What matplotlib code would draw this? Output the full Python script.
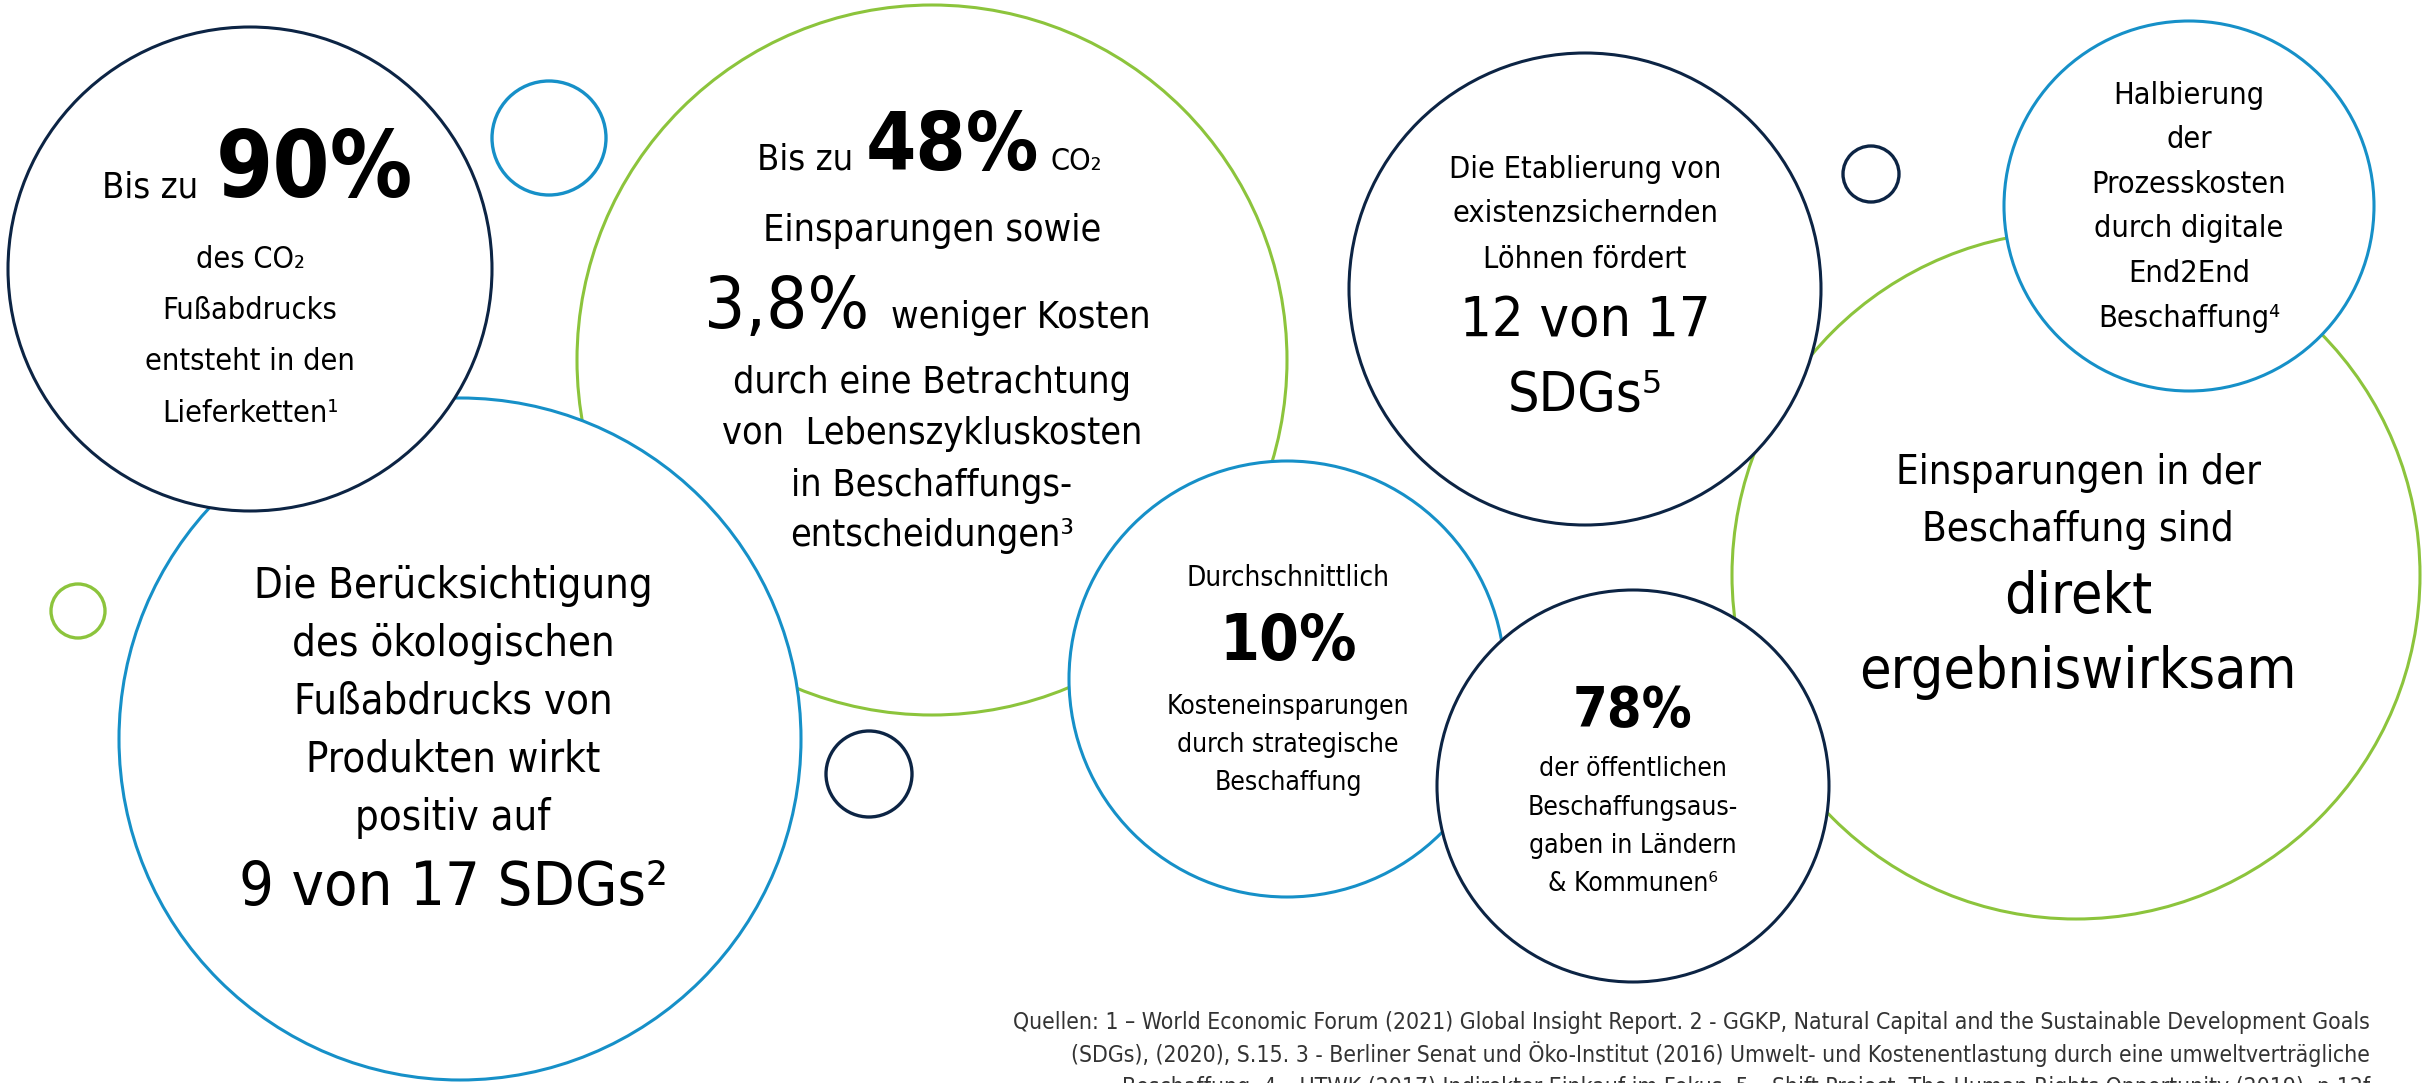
import matplotlib as mpl
mpl.use('Agg')
import matplotlib.pyplot as plt
from matplotlib.patches import Circle

plt.rcParams['font.family'] = ['DejaVu Sans']
plt.rcParams['font.stretch'] = 'condensed'

W, H = 2433, 1083

## circles (pixel layout of the infographic)

NAVY = '#0c2444'
BLUE = '#1690c8'
GREEN = '#8cc43c'

circle_x = [932, 2076, 460, 250, 1287, 1633, 1585, 2189, 549, 78, 869, 1871]
circle_y = [360, 575, 739, 269, 679, 786, 289, 206, 138, 611, 774, 174]
circle_r = [355, 344, 341, 242, 218, 196, 236, 185, 57, 27, 43, 28]
circle_c = [GREEN, GREEN, BLUE, NAVY, BLUE, NAVY, NAVY, BLUE, BLUE, GREEN, NAVY, NAVY]

## texts

a_lines = ['des CO\u2082', 'Fu\u00dfabdrucks', 'entsteht in den', 'Lieferketten\u00b9']
c_lines = ['durch eine Betrachtung', 'von  Lebenszykluskosten', 'in Beschaffungs-', 'entscheidungen\u00b3']
d_lines = ['Die Ber\u00fccksichtigung', 'des \u00f6kologischen', 'Fu\u00dfabdrucks von',
           'Produkten wirkt', 'positiv auf']
g_lines = ['Kosteneinsparungen', 'durch strategische', 'Beschaffung']
l_lines = ['der \u00f6ffentlichen', 'Beschaffungsaus-', 'gaben in L\u00e4ndern', '& Kommunen\u2076']
h_lines = ['Die Etablierung von', 'existenzsichernden', 'L\u00f6hnen f\u00f6rdert']
j_lines = ['Halbierung', 'der', 'Prozesskosten', 'durch digitale', 'End2End', 'Beschaffung\u2074']
k_lines = ['Einsparungen in der', 'Beschaffung sind']
k_big = ['direkt', 'ergebniswirksam']

sources = [
    'Quellen: 1 \u2013 World Economic Forum (2021) Global Insight Report. 2 - GGKP, Natural Capital and the Sustainable Development Goals',
    '(SDGs), (2020), S.15. 3 - Berliner Senat und \u00d6ko-Institut (2016) Umwelt- und Kostenentlastung durch eine umweltvertr\u00e4gliche',
    'Beschaffung. 4 \u2013 UTWK (2017) Indirekter Einkauf im Fokus. 5 \u2013 Shift Project, The Human Rights Opportunity (2019), p.12f',
]

fig = plt.figure(figsize=(W / 100, H / 100), dpi=100)
ax = fig.add_axes([0, 0, 1, 1])
ax.set_xlim(0, W)
ax.set_ylim(H, 0)
ax.set_aspect('equal')
ax.axis('off')

for i, (x, y, r, c) in enumerate(zip(circle_x, circle_y, circle_r, circle_c)):
    lw = 2.2 if r > 100 else 2.4
    ax.add_patch(Circle((x, y), r, facecolor='white', edgecolor=c, lw=lw, zorder=1 + i))

def t(x, y, s, size, weight='normal', ha='center', z=30, **kw):
    ax.text(x, y, s, fontsize=size, fontweight=weight, ha=ha, va='baseline',
            color='black', zorder=z, **kw)

def block(x, ys, lines, size, weight='normal'):
    for y, s in zip(ys, lines):
        t(x, y, s, size, weight)

# circle A
t(102, 197, 'Bis zu', 26, ha='left')
t(216, 197, '90%', 66, 'bold', ha='left')
block(250, [268, 319, 370, 422], a_lines, 22)

# circle C
t(757, 170, 'Bis zu', 26, ha='left')
t(866, 170, '48%', 58, 'bold', ha='left')
t(1050, 170, 'CO\u2082', 22, ha='left')
t(932, 241, 'Einsparungen sowie', 27)
t(704, 328, '3,8%', 52, ha='left')
t(891, 328, 'weniger Kosten', 27, ha='left')
block(932, [393, 444, 496, 546], c_lines, 27)

# circle D
block(453, [598, 656, 714, 772, 830], d_lines, 30)
t(453, 905, '9 von 17 SDGs\u00b2', 44)

# circle G
t(1288, 586, 'Durchschnittlich', 20)
t(1288, 660, '10%', 46, 'bold')
block(1288, [714, 752, 790], g_lines, 19)

# circle L
t(1633, 726, '78%', 40, 'bold')
block(1633, [776, 815, 853, 891], l_lines, 19)

# circle H
block(1585, [178, 222, 268], h_lines, 22)
t(1585, 336, '12 von 17', 40)
t(1585, 411, 'SDGs\u2075', 40)

# circle J
block(2189, [104, 148, 193, 237, 282, 327], j_lines, 22)

# circle K
block(2078, [484, 541], k_lines, 29)
block(2078, [613, 688], k_big, 41)

# sources (last line runs off the bottom edge, as in the original)
for y, s in zip([1029, 1062, 1094], sources):
    ax.text(2370, y, s, fontsize=16.5, ha='right', va='baseline', color='#333333',
            fontweight='light', zorder=40)

fig.savefig('out.png', dpi=100)
